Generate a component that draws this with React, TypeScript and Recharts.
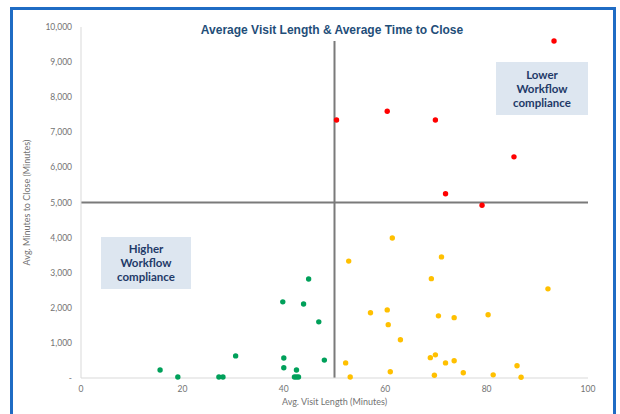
import React from "react";
import { ScatterChart, Scatter, XAxis, YAxis, ReferenceLine } from "recharts";

// Lower workflow compliance (red)
const redX = [93.3, 50.4, 60.4, 69.9, 85.4, 71.9, 79.1];
const redY = [9600, 7350, 7600, 7350, 6300, 5250, 4920];

// Middle (yellow)
const yellowX = [61.4, 52.8, 71.1, 69.1, 92.1, 57.1, 60.4, 60.6, 70.5, 73.6, 80.3, 63.0, 68.9, 69.9, 71.9, 73.6, 52.2, 61.0, 53.1, 69.7, 75.4, 81.3, 86.0, 86.8];
const yellowY = [3990, 3330, 3450, 2830, 2540, 1860, 1940, 1520, 1770, 1720, 1800, 1090, 580, 660, 430, 490, 430, 180, 30, 80, 150, 90, 350, 20];

// Higher workflow compliance (green)
const greenX = [44.9, 39.8, 43.9, 46.9, 48.0, 30.5, 40.0, 40.0, 42.5, 15.6, 19.1, 27.2, 28.0, 42.1, 42.5, 42.9];
const greenY = [2820, 2170, 2110, 1600, 510, 630, 570, 290, 230, 230, 30, 30, 30, 30, 30, 30];

const xTicks = [0, 20, 40, 60, 80, 100];
const yTicks = [0, 1000, 2000, 3000, 4000, 5000, 6000, 7000, 8000, 9000, 10000];

const title = "Average Visit Length & Average Time to Close";
const xTitle = "Avg. Visit Length (Minutes)";
const yTitle = "Avg. Minutes to Close (Minutes)";
const lowerLabel = ["Lower", "Workflow", "compliance"];
const higherLabel = ["Higher", "Workflow", "compliance"];

const zip = (xs: number[], ys: number[]) => xs.map((x, i) => ({ x, y: ys[i] }));
const redData = zip(redX, redY);
const yellowData = zip(yellowX, yellowY);
const greenData = zip(greenX, greenY);

const dot = (color: string) => (props: any) => (
  <circle cx={props.cx} cy={props.cy} r={2.7} fill={color} />
);

const fmtY = (v: number) => (v === 0 ? "-" : v.toLocaleString("en-US"));

const tickStyle = { fontSize: 8.5, fill: "#737373", fontFamily: "Lato, 'Liberation Sans', sans-serif" };

const boxStyle = (left: number, top: number, w: number, h: number): React.CSSProperties => ({
  position: "absolute",
  left,
  top,
  width: w,
  height: h,
  background: "#dde6f0",
  color: "#1f3a68",
  fontFamily: "Lato, 'Liberation Sans', sans-serif",
  fontWeight: 700,
  fontSize: 11.5,
  lineHeight: "14px",
  textAlign: "center",
  display: "flex",
  flexDirection: "column",
  justifyContent: "center",
});

export default function App() {
  return (
    <div style={{ position: "absolute", left: 0, top: 0, width: 620, height: 414, background: "#fff", overflow: "hidden" }}>
      <div
        style={{
          position: "absolute",
          left: 10,
          top: 7,
          width: 600,
          height: 420,
          border: "3px solid #1f6cc4",
        }}
      />
      <div style={{ position: "absolute", left: 0, top: 0 }}>
        <ScatterChart width={620} height={414} margin={{ top: 27, right: 32, bottom: 0, left: 0 }}>
          <XAxis
            type="number"
            dataKey="x"
            domain={[0, 100]}
            ticks={xTicks}
            height={36}
            axisLine={{ stroke: "#d9d9d9" }}
            tickLine={false}
            tick={tickStyle}
            tickMargin={2}
            label={{ value: xTitle, position: "insideBottom", offset: 9, style: { ...tickStyle, fontSize: 9 } }}
          />
          <YAxis
            type="number"
            dataKey="y"
            domain={[0, 10000]}
            ticks={yTicks}
            width={81}
            axisLine={{ stroke: "#d9d9d9" }}
            tickLine={false}
            tick={tickStyle}
            tickMargin={3}
            tickFormatter={fmtY}
            label={{ value: yTitle, angle: -90, position: "insideLeft", offset: 27, style: { ...tickStyle, fontSize: 9, textAnchor: "middle" } }}
          />
          <ReferenceLine y={5000} stroke="#7a7a7a" strokeWidth={2} />
          <ReferenceLine segment={[{ x: 50, y: 0 }, { x: 50, y: 9600 }]} stroke="#7a7a7a" strokeWidth={2} />
          <Scatter data={greenData} fill="#00a05a" shape={dot("#00a05a")} isAnimationActive={false} />
          <Scatter data={yellowData} fill="#ffc000" shape={dot("#ffc000")} isAnimationActive={false} />
          <Scatter data={redData} fill="#ff0000" shape={dot("#ff0000")} isAnimationActive={false} />
        </ScatterChart>
      </div>
      <div
        style={{
          position: "absolute",
          left: 132,
          top: 22,
          width: 400,
          textAlign: "center",
          fontFamily: "'Liberation Sans', Arial, sans-serif",
          fontWeight: 700,
          fontSize: 12,
          lineHeight: "16px",
          color: "#1f4e79",
        }}
      >
        {title}
      </div>
      <div style={boxStyle(496, 62, 92, 53)}>
        {lowerLabel.map((t) => (
          <div key={t}>{t}</div>
        ))}
      </div>
      <div style={boxStyle(101, 237, 90, 52)}>
        {higherLabel.map((t) => (
          <div key={t}>{t}</div>
        ))}
      </div>
    </div>
  );
}
